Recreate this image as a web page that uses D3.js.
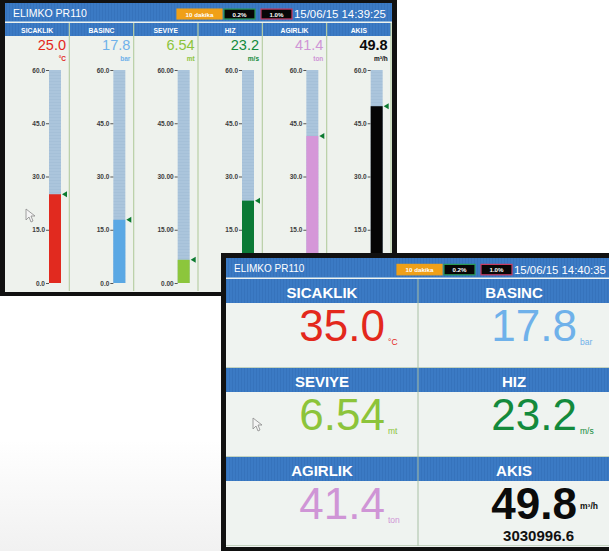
<!DOCTYPE html>
<html>
<head>
<meta charset="utf-8">
<script src="https://cdn.jsdelivr.net/npm/d3@7"></script>
<style>
  body { margin: 0; background: #fff; }
  svg { display: block; font-family: "Liberation Sans", Arial, sans-serif; }
  .tick text { font-weight: bold; fill: #3c3c3c; }
  .tick line { stroke: #555; }
  .domain { display: none; }
</style>
</head>
<body>
<div id="chart"></div>
<script>
// Data: two screens of the same recorder, a few seconds apart

var channels = ['SICAKLIK', 'BASINC', 'SEVIYE', 'HIZ', 'AGIRLIK', 'AKIS']
var units = ['°C', 'bar', 'mt', 'm/s', 'ton', 'm³/h']
var colors = ['#e3281c', '#6fb1ea', '#8cc43a', '#138a3c', '#cf95d6', '#0b0b0b']
var barColors = ['#e12a1f', '#5aa8e4', '#8cc63c', '#0b7a36', '#d597d8', '#050505']
var digits = [1, 1, 2, 1, 1, 1]

var valuesScreen1 = [25.0, 17.8, 6.54, 23.2, 41.4, 49.8]
var valuesScreen2 = [35.0, 17.8, 6.54, 23.2, 41.4, 49.8]
var akisTotal = 3030996.6

var tickValues = [0, 15, 30, 45, 60]
var scaleMax = 60

var title = 'ELIMKO PR110'
var badges = ['10 dakika', '0.2%', '1.0%']
var badgeFill = ['#f0a018', '#070707', '#070707']
var badgeStroke = ['#f0a018', '#2a9a55', '#c83a60']
var stamp1 = '15/06/15 14:39:25'
var stamp2 = '15/06/15 14:40:35'

var width = 609
var height = 551

// where the second screen starts (it covers the lower right of the first)
var s2x = 221
var s2y = 253

var svg = d3.select('#chart').append('svg')
  .attr('width', width)
  .attr('height', height)

// faint floor reflection bottom-left
var defs = svg.append('defs')
var grad = defs.append('linearGradient').attr('id', 'floor')
  .attr('x1', 0).attr('y1', 0).attr('x2', 0).attr('y2', 1)
grad.append('stop').attr('offset', 0).attr('stop-color', '#fff')
grad.append('stop').attr('offset', 1).attr('stop-color', '#f1f1f1')
svg.append('rect').attr('x', 0).attr('y', 440).attr('width', 230).attr('height', 111)
  .attr('fill', 'url(#floor)')

var panel = defs.append('pattern').attr('id', 'panelTex')
  .attr('width', 3).attr('height', 3).attr('patternUnits', 'userSpaceOnUse')
panel.append('rect').attr('width', 3).attr('height', 3).attr('fill', '#3b7ac4')
panel.append('rect').attr('width', 1).attr('height', 3).attr('fill', '#3673bc')

var barTex = defs.append('pattern').attr('id', 'barTex')
  .attr('width', 3).attr('height', 3).attr('patternUnits', 'userSpaceOnUse')
barTex.append('rect').attr('width', 3).attr('height', 3).attr('fill', '#abc5dc')
barTex.append('rect').attr('width', 3).attr('height', 1).attr('fill', '#a5c0d8')

function titleBar(g, x0, y0, w, h, fs, stamp, bx) {
  g.append('rect').attr('x', x0).attr('y', y0).attr('width', w).attr('height', h)
    .attr('fill', 'url(#panelTex)')
  g.append('line').attr('x1', x0).attr('x2', x0 + w).attr('y1', y0 + h - 0.5).attr('y2', y0 + h - 0.5)
    .attr('stroke', '#8fb6dc').attr('stroke-width', 1)
  g.append('text').attr('x', x0 + 8).attr('y', y0 + h * 0.72)
    .attr('fill', '#fff').attr('font-size', fs).text(title)

  var bw = [45, 31, 31]
  var bxs = [bx, bx + 47, bx + 84]
  badges.forEach(function (b, i) {
    g.append('rect').attr('x', bxs[i]).attr('y', y0 + h * 0.32).attr('width', bw[i]).attr('height', h * 0.52)
      .attr('fill', badgeFill[i]).attr('stroke', badgeStroke[i]).attr('stroke-width', 1.2)
    g.append('text').attr('x', bxs[i] + bw[i] / 2).attr('y', y0 + h * 0.72)
      .attr('text-anchor', 'middle').attr('fill', '#fff').attr('font-weight', 'bold')
      .attr('font-size', 6.2).text(b)
  })
  g.append('text').attr('x', bx + 117).attr('y', y0 + h * 0.8)
    .attr('fill', '#fff').attr('font-size', 11.4).text(stamp)
}

function cursor(g, x, y) {
  g.append('path')
    .attr('d', 'M' + x + ',' + y + ' l0,11 l3,-3 l2,5 l2,-1 l-2,-5 l4,0 z')
    .attr('fill', '#f4f4f4').attr('stroke', '#8a8a8a').attr('stroke-width', 0.8)
}

/* Screen 1: bar graph view */

var s1 = svg.append('g')
s1.append('rect').attr('x', 0).attr('y', 0).attr('width', 397).attr('height', 296).attr('fill', '#111')
s1.append('rect').attr('x', 5).attr('y', 3).attr('width', 387).attr('height', 289).attr('fill', '#eef2ed')

titleBar(s1, 5, 3, 387, 19, 10.5, stamp1, 177)

var col1 = d3.scaleBand().domain(channels).range([5, 391])
var yBar = d3.scaleLinear().domain([0, scaleMax]).range([283, 70])

s1.append('rect').attr('x', 5).attr('y', 23).attr('width', 386).attr('height', 13).attr('fill', 'url(#panelTex)')

var cols = s1.selectAll('g.col')
  .data(channels)
  .enter()
  .append('g')
  .attr('class', 'col')
  .attr('transform', function (d) { return 'translate(' + col1(d) + ',0)' })

cols.append('line')
  .attr('x1', col1.bandwidth()).attr('x2', col1.bandwidth())
  .attr('y1', 23).attr('y2', 291)
  .attr('stroke', '#b9cfa6').attr('stroke-width', 1.2)

cols.append('text')
  .attr('x', col1.bandwidth() / 2).attr('y', 33)
  .attr('text-anchor', 'middle').attr('fill', '#fff')
  .attr('font-size', 6.8).attr('font-weight', 'bold')
  .text(function (d) { return d })

cols.append('text')
  .attr('x', 61).attr('y', 50)
  .attr('text-anchor', 'end').attr('font-size', 14.5)
  .attr('fill', function (d, i) { return colors[i] })
  .attr('font-weight', function (d, i) { return i == 5 ? 'bold' : 'normal' })
  .text(function (d, i) { return valuesScreen1[i].toFixed(digits[i]) })

cols.append('text')
  .attr('x', 61).attr('y', 61)
  .attr('text-anchor', 'end').attr('font-size', 6.5).attr('font-weight', 'bold')
  .attr('fill', function (d, i) { return colors[i] })
  .text(function (d, i) { return units[i] })

cols.append('rect')
  .attr('x', 44).attr('width', 12)
  .attr('y', yBar(scaleMax)).attr('height', yBar(0) - yBar(scaleMax))
  .attr('fill', 'url(#barTex)')

cols.append('rect')
  .attr('x', 44).attr('width', 12)
  .attr('y', function (d, i) { return yBar(valuesScreen1[i]) })
  .attr('height', function (d, i) { return yBar(0) - yBar(valuesScreen1[i]) })
  .attr('fill', function (d, i) { return barColors[i] })

cols.append('path')
  .attr('d', function (d, i) {
    var y = yBar(valuesScreen1[i])
    return 'M57,' + y + ' l5,-3 l0,6 z'
  })
  .attr('fill', '#0c7a30')

cols.each(function (d, i) {
  var left = col1(d)
  var ax = d3.select(this).append('g')
    .attr('transform', 'translate(44,0)')
    .call(d3.axisLeft(yBar).tickValues(tickValues).tickSize(3).tickPadding(1)
      .tickFormat(d3.format('.' + digits[i] + 'f')))
    .attr('font-size', 6.5)
    .attr('font-family', null)
  // labels that sit under the second screen are not visible at all
  ax.selectAll('.tick').filter(function (v) { return left + 44 > s2x && yBar(v) > s2y }).remove()
})

cursor(s1, 26, 209)

/* Screen 2: big numeric view */

var s2 = svg.append('g')
s2.append('rect').attr('x', s2x).attr('y', s2y).attr('width', 400).attr('height', 300).attr('fill', '#111')
s2.append('rect').attr('x', 226).attr('y', 258).attr('width', 390).attr('height', 289).attr('fill', '#eff3f0')

titleBar(s2, 226, 258, 390, 20, 10, stamp2, 397)

var colX = d3.scaleBand().domain([0, 1]).range([226, 610])
var rowY = d3.scaleBand().domain([0, 1, 2]).range([279, 546])

var cells = s2.selectAll('g.cell')
  .data(channels)
  .enter()
  .append('g')
  .attr('class', 'cell')
  .attr('transform', function (d, i) {
    return 'translate(' + colX(i % 2) + ',' + rowY(Math.floor(i / 2)) + ')'
  })

cells.append('rect')
  .attr('x', 0).attr('y', 0).attr('width', colX.bandwidth()).attr('height', 24)
  .attr('fill', 'url(#panelTex)')

cells.append('line')
  .attr('x1', 0).attr('x2', colX.bandwidth()).attr('y1', rowY.bandwidth() - 0.5).attr('y2', rowY.bandwidth() - 0.5)
  .attr('stroke', '#c3d3c0')

cells.append('text')
  .attr('x', 96).attr('y', 18.5)
  .attr('text-anchor', 'middle').attr('fill', '#fff')
  .attr('font-size', 15).attr('font-weight', 'bold')
  .text(function (d) { return d })

cells.append('text')
  .attr('x', 159).attr('y', 62)
  .attr('text-anchor', 'end').attr('font-size', 44)
  .attr('fill', function (d, i) { return colors[i] })
  .attr('font-weight', function (d, i) { return i == 5 ? 'bold' : 'normal' })
  .text(function (d, i) { return valuesScreen2[i].toFixed(digits[i]) })

cells.append('text')
  .attr('x', 162).attr('y', function (d, i) { return i == 5 ? 52 : 65.5 })
  .attr('font-size', 8.5)
  .attr('fill', function (d, i) { return colors[i] })
  .attr('font-weight', function (d, i) { return i == 5 ? 'bold' : 'normal' })
  .text(function (d, i) { return units[i] })

cells.filter(function (d, i) { return i == 5 })
  .append('text')
  .attr('x', 156).attr('y', 84)
  .attr('text-anchor', 'end').attr('font-size', 15).attr('font-weight', 'bold')
  .attr('fill', '#111')
  .text(akisTotal.toFixed(1))

s2.append('line')
  .attr('x1', colX(1)).attr('x2', colX(1)).attr('y1', 279).attr('y2', 546)
  .attr('stroke', '#a9c0a6').attr('stroke-width', 1)

cursor(s2, 253, 418)
</script>
</body>
</html>
